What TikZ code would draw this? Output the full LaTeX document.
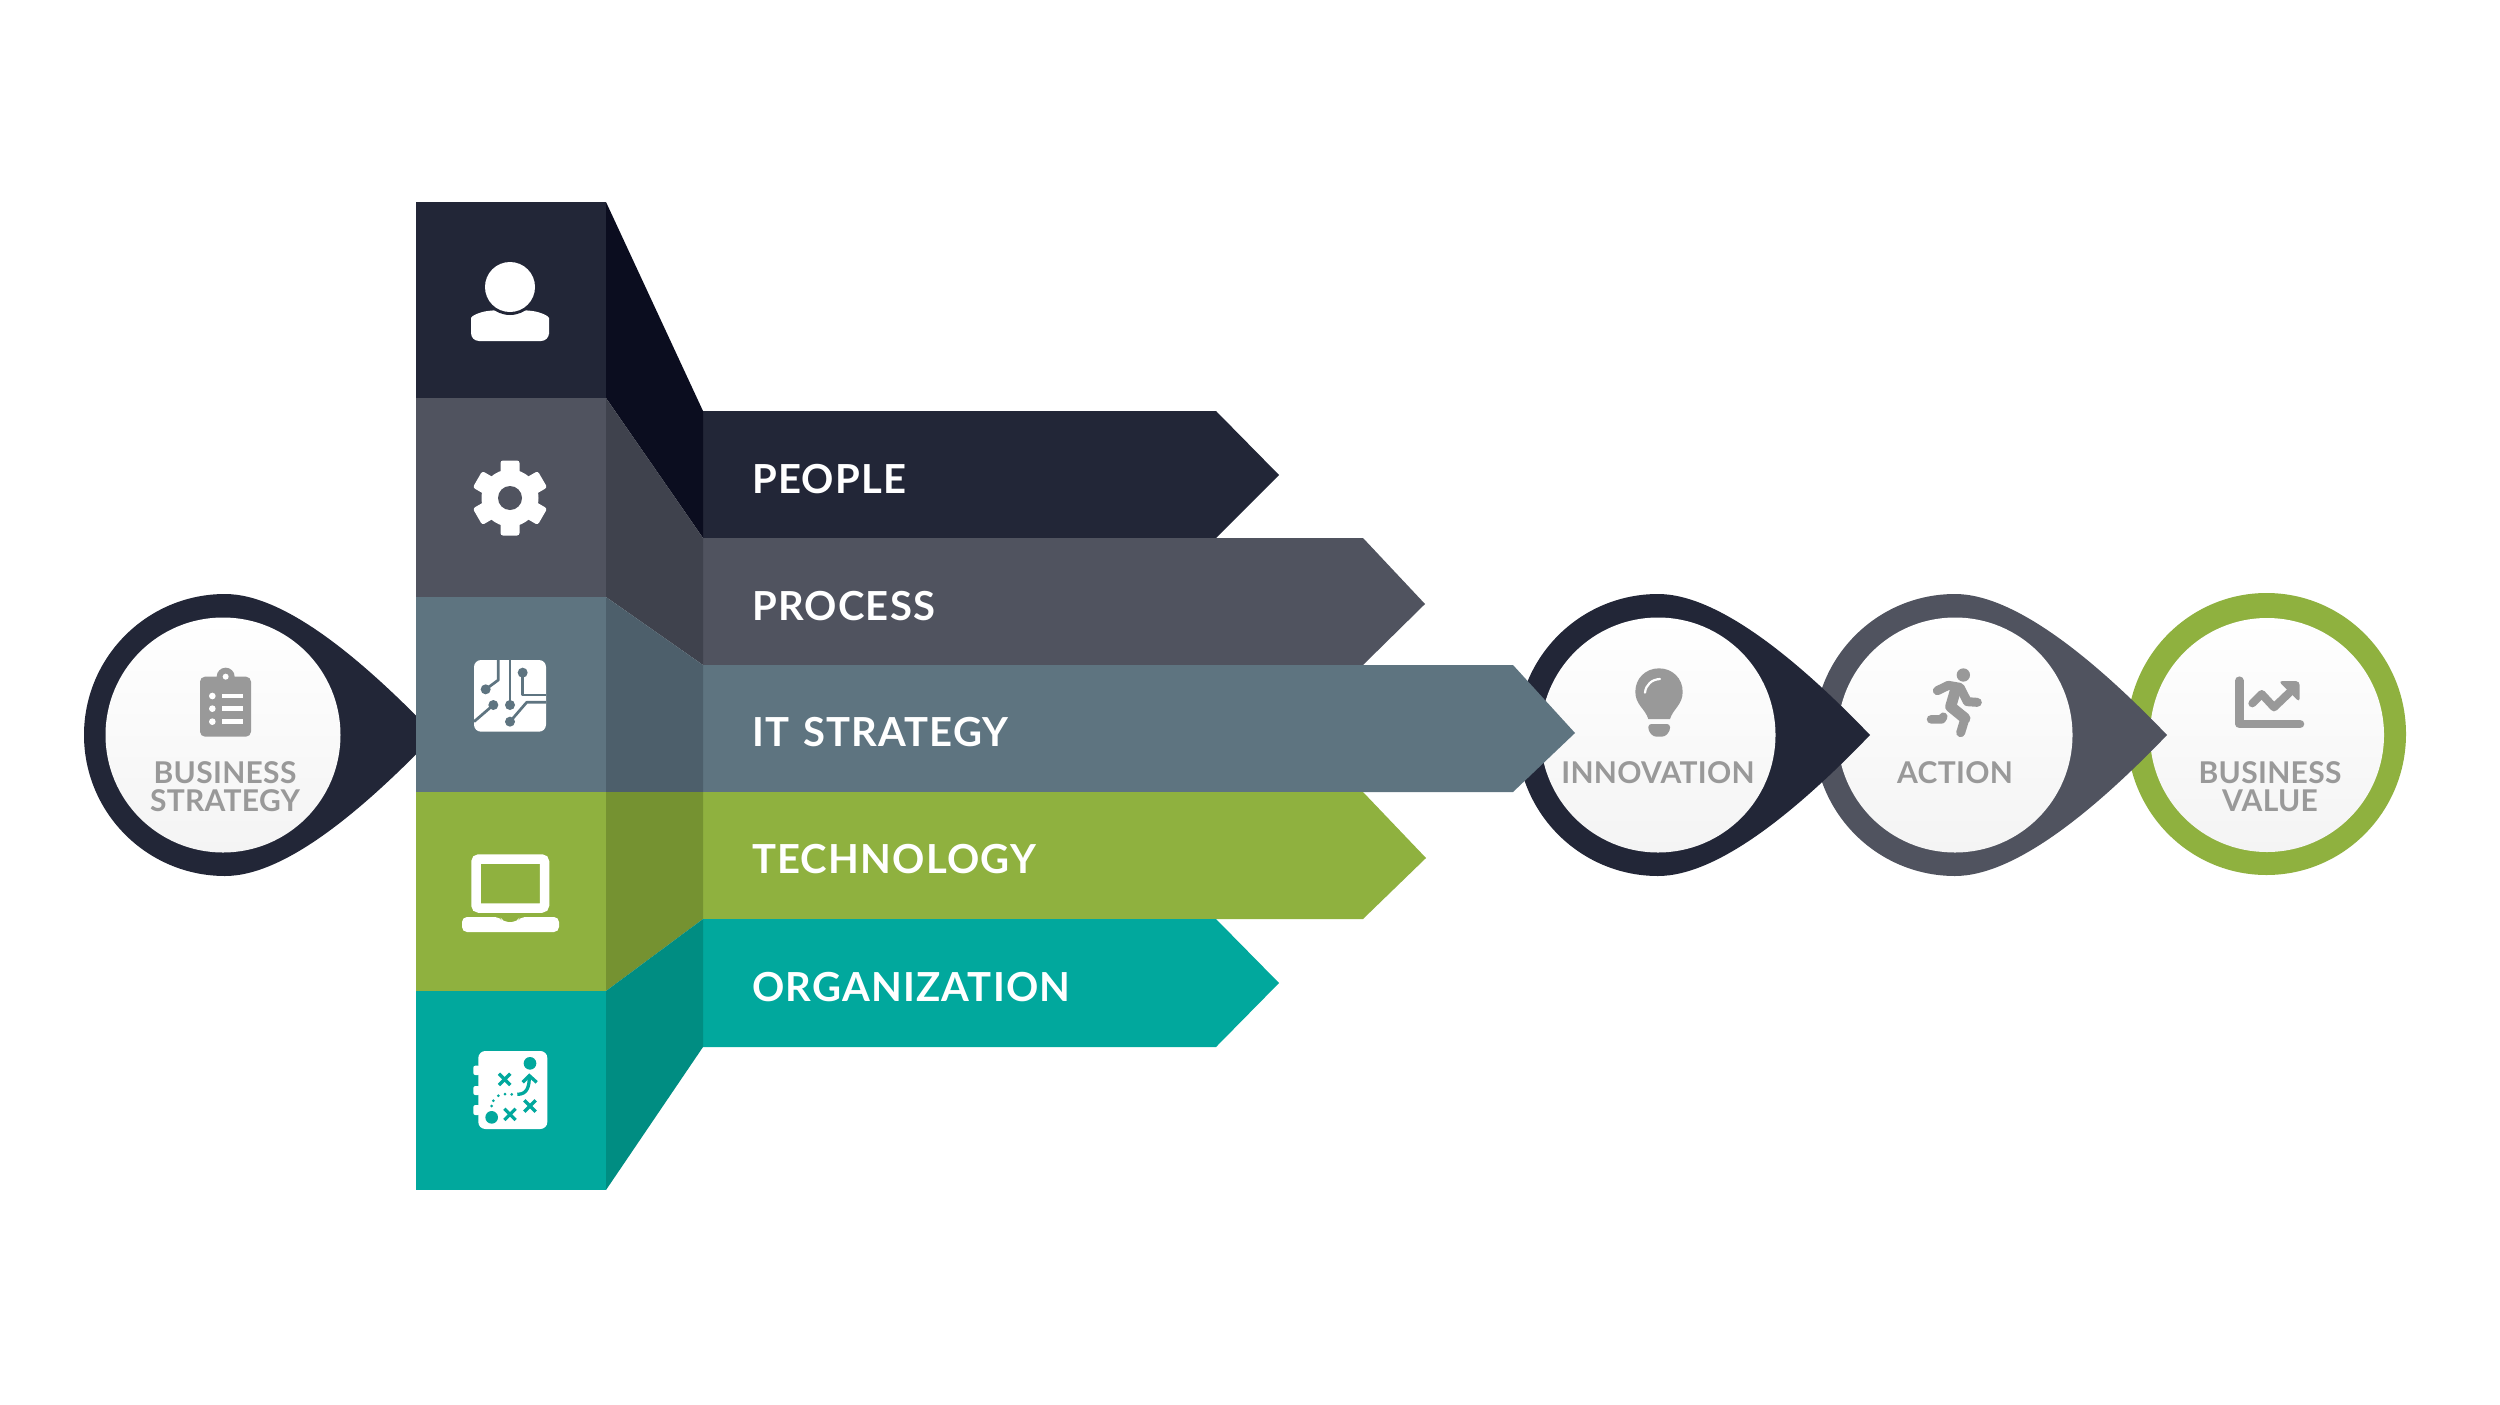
\documentclass[tikz,border=0pt]{standalone}
\usepackage{fontspec}
\setmainfont{Lato}
\usetikzlibrary{shadings}
\definecolor{cA}{HTML}{222637}\definecolor{cAd}{HTML}{0B0D1F}
\definecolor{cB}{HTML}{50535F}\definecolor{cBd}{HTML}{3F424D}
\definecolor{cC}{HTML}{5E7480}\definecolor{cCd}{HTML}{4D5F6B}
\definecolor{cD}{HTML}{8FB13F}\definecolor{cDd}{HTML}{759231}
\definecolor{cE}{HTML}{01A89D}\definecolor{cEd}{HTML}{008D82}
\definecolor{grayicon}{HTML}{999999}
\definecolor{topw}{HTML}{FFFFFF}\definecolor{botw}{HTML}{F4F4F4}
\newcommand{\dropshape}[3]{% inner cx, fill, outer offset
  \fill[#2] (#1+212,735) .. controls (#1+140,660) and (#1+60+#3,594) .. (#1+#3,594)
     arc[start angle=90,end angle=270,radius=141pt]
     .. controls (#1+60+#3,876) and (#1+140,810) .. (#1+212,735) -- cycle;
  \shade[innerdisc] (#1,735) circle[radius=117.5];
}
\tikzset{
  x=1pt,y=-1pt,
  innerdisc/.style={top color=topw,bottom color=botw},
  barlabel/.style={anchor=base west,text=white,inner sep=0pt,font=\fontsize{40}{40}\selectfont\bfseries\addfontfeature{LetterSpace=3}},
  circlabel/.style={anchor=base,text=grayicon,inner sep=0pt,font=\fontsize{30}{30}\selectfont\bfseries\addfontfeature{LetterSpace=1}},
  trace/.style={line width=2.7pt,line join=round},
  gline/.style={draw=grayicon,line cap=round,line join=round},
}
\begin{document}
\begin{tikzpicture}
\useasboundingbox (0,0) rectangle (2500,1405);
\fill[white] (0,0) rectangle (2500,1405);
% chain of circles, rightmost first
\fill[cD] (2266.5,734) ellipse[x radius=139.5,y radius=141];
\shade[innerdisc] (2267,735) circle[radius=117];
\dropshape{1955}{cB}{0}
\dropshape{1658}{cA}{0}
\dropshape{223}{cA}{2}
% bars
\fill[cA] (703,411) -- (1216,411) -- (1279,475) -- (1216,538) -- (703,538) -- cycle;
\fill[cB] (703,538) -- (1363,538) -- (1425,604) -- (1363,665) -- (703,665) -- cycle;
\fill[cC] (703,665) -- (1513,665) -- (1575,733) -- (1513,792) -- (703,792) -- cycle;
\fill[cD] (703,792) -- (1363,792) -- (1426,858) -- (1363,919) -- (703,919) -- cycle;
\fill[cE] (703,919) -- (1216,919) -- (1279,983) -- (1216,1047) -- (703,1047) -- cycle;
% column fronts
\fill[cA] (416,202) rectangle (606,398);
\fill[cB] (416,398) rectangle (606,597);
\fill[cC] (416,597) rectangle (606,792);
\fill[cD] (416,792) rectangle (606,991);
\fill[cE] (416,991) rectangle (606,1190);
% column sides
\fill[cAd] (606,202) -- (703,411) -- (703,538) -- (606,398) -- cycle;
\fill[cBd] (606,398) -- (703,538) -- (703,665) -- (606,597) -- cycle;
\fill[cCd] (606,597) -- (703,665) -- (703,792) -- (606,792) -- cycle;
\fill[cDd] (606,792) -- (703,792) -- (703,919) -- (606,991) -- cycle;
\fill[cEd] (606,991) -- (703,919) -- (703,1047) -- (606,1190) -- cycle;
% bar labels
\node[barlabel] (people) at (752,493) {PEOPLE};
\node[barlabel] (process) at (752,620) {PROCESS};
\node[barlabel] (itstrategy) at (752,746) {IT\hspace{3pt} STRATEGY};
\node[barlabel] (technology) at (752,873) {TECHNOLOGY};
\node[barlabel] (organization) at (752,1001) {ORGANIZATION};
% circle labels
\node[circlabel] (bs1) at (225,783) {BUSINESS};
\node[circlabel] (bs2) at (225,811) {STRATEGY};
\node[circlabel] (innov) at (1658,783) {INNOVATION};
\node[circlabel] (action) at (1955,783) {ACTION};
\node[circlabel] (bv1) at (2270,783) {BUSINESS};
\node[circlabel] (bv2) at (2270,811) {VALUE};
% person
\fill[white,rounded corners=8pt] (471,341) -- (471,326) .. controls (471,316) and (480,312) .. (495,310) -- (525,310) .. controls (540,312) and (549,316) .. (549,326) -- (549,341) -- cycle;
\fill[cA] (510,287) circle[radius=28];
\fill[white] (510,287) circle[radius=25];
% gear
\begin{scope}[shift={(510,498)}]
\foreach \a in {0,60,...,300}{
  \fill[white,rotate=\a,rounded corners=2.5pt] (-9.5,0) rectangle (9.5,37.5);
}
\fill[white] (0,0) circle[radius=28.5];
\fill[cB] (0,0) circle[radius=12];
\end{scope}
% chip
\begin{scope}[shift={(440,640)},scale=0.33333]
\fill[white,rounded corners=7pt] (102,60) rectangle (318,275);
\draw[cC,trace] (175,60) -- (175,120) -- (137,148);
\draw[cC,trace] (210,60) -- (210,195);
\draw[cC,trace] (248,98) -- (248,165) -- (318,165);
\draw[cC,trace] (318,187) -- (260,187) -- (210,245);
\draw[cC,trace] (160,195) -- (102,245);
\fill[cC] (248,98) circle[radius=15];
\fill[cC] (137,148) circle[radius=15];
\fill[cC] (160,195) circle[radius=15];
\fill[cC] (210,195) circle[radius=15];
\fill[cC] (210,245) circle[radius=15];
\end{scope}
% laptop
\draw[white,line width=9.5pt,rounded corners=3pt] (476,859) rectangle (544.5,908);
\fill[white,rounded corners=5pt] (462,917) -- (500,917) -- (503,922) -- (517,922) -- (520,917) -- (559,917) -- (559,932) -- (462,932) -- cycle;
% map
\begin{scope}[shift={(440,1030)},scale=0.33333]
\fill[white,rounded corners=7pt] (115,63) rectangle (322,297);
\fill[white,rounded corners=2pt] (100,107) rectangle (120,135);
\fill[white,rounded corners=2pt] (100,168) rectangle (120,195);
\fill[white,rounded corners=2pt] (100,225) rectangle (120,255);
\fill[cE] (270,100) circle[radius=19];
\fill[cE] (155,262) circle[radius=19];
\foreach \p/\q in {194/148,210/253,270/228}{
  \draw[cE,line width=3.3pt] (\p-17,\q-17) -- (\p+17,\q+17) (\p-17,\q+17) -- (\p+17,\q-17);
}
\draw[cE,line width=3.3pt] (232,193) .. controls (262,193) and (268,170) .. (268,137);
\draw[cE,line width=3.3pt] (248,157) -- (268,137) -- (290,157);
\foreach \p/\q in {215/193,195/192,175/197,160/212,155/228}{
  \fill[cE] (\p,\q) circle[radius=4.5];
}
\end{scope}
% clipboard
\begin{scope}[shift={(170,650)},scale=0.33333]
\fill[grayicon] (167,80) circle[radius=27];
\fill[grayicon,rounded corners=5pt] (90,80) rectangle (243,260);
\fill[white] (167,80) circle[radius=9];
\foreach \q in {138,176,215}{
  \fill[white] (127,\q) circle[radius=10];
  \fill[white] (155,\q-7) rectangle (218,\q+7);
}
\end{scope}
% bulb
\begin{scope}[shift={(1600,650)},scale=0.33333]
\fill[grayicon] (145,207) .. controls (135,175) and (106,165) .. (106,125)
  .. controls (106,85) and (137,55) .. (177,55)
  .. controls (217,55) and (248,85) .. (248,125)
  .. controls (248,165) and (220,175) .. (210,207) -- cycle;
\fill[grayicon,rounded corners=3pt] (145,222) -- (210,222) -- (210,242) -- (195,260) -- (160,260) -- (145,242) -- cycle;
\draw[white,line width=2.2pt,line cap=round] (135,128) .. controls (137,105) and (155,88) .. (180,87);
\end{scope}
% runner
\begin{scope}[shift={(1900,650)},scale=0.33333]
\fill[grayicon] (190,75) circle[radius=20];
\draw[gline,line width=9pt] (112,122) -- (145,106) -- (180,112) -- (202,155) -- (232,157);
\draw[gline,line width=11pt] (168,115) -- (152,170) -- (195,205);
\draw[gline,line width=9pt] (195,205) -- (182,248);
\draw[gline,line width=8.5pt] (93,208) -- (125,208) -- (130,200);
\end{scope}
% chart
\begin{scope}[shift={(2200,650)},scale=0.33333]
\draw[gline,line width=8.5pt] (118,92) -- (118,222) -- (300,222);
\draw[gline,line width=8pt] (157,160) -- (185,132) -- (222,172) -- (268,128);
\fill[grayicon,rounded corners=4pt] (235,93) -- (299,93) -- (299,157) -- cycle;
\end{scope}
\end{tikzpicture}
\end{document}
